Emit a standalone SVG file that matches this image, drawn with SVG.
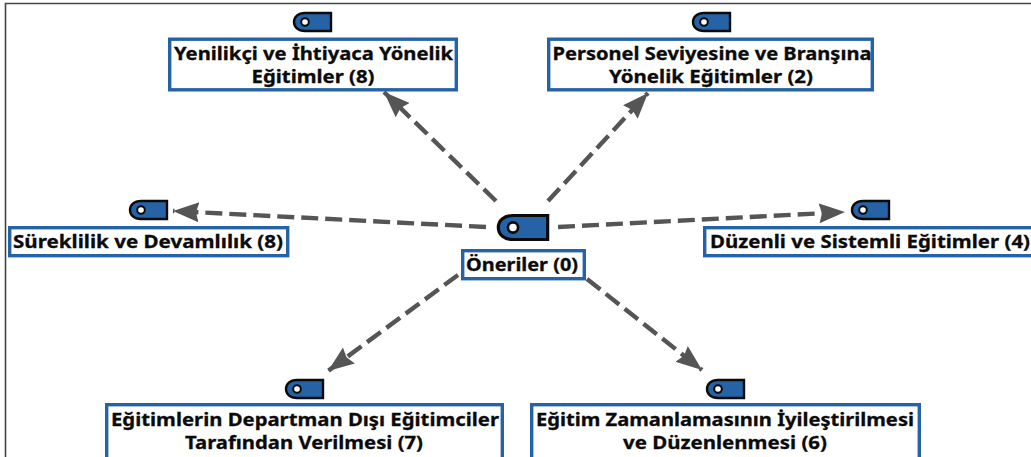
<svg xmlns="http://www.w3.org/2000/svg" width="1031" height="457" viewBox="0 0 1031 457">
<style>
.box{fill:#fff;stroke:#2563a6;stroke-width:3.4}
.t{font-family:"Noto Sans","Open Sans","DejaVu Sans",sans-serif;font-weight:700;font-size:18px;fill:#0b0b0b;stroke:#0b0b0b;stroke-width:.3;text-anchor:middle}
.tag{fill:#2563a6;stroke:#0a0a0a;stroke-width:2.4;stroke-linejoin:miter}
.hole{fill:#fff;stroke:#0a0a0a;stroke-width:2}
.c{stroke:#555;stroke-width:4.400;stroke-dasharray:17 7;fill:none;marker-end:url(#a)}
</style>
<defs>
<marker id="a" markerUnits="userSpaceOnUse" markerWidth="28" markerHeight="22" refX="26" refY="10" orient="auto"><path d="M0 0L26 10L0 20L3 10Z" fill="#555"/></marker>
<symbol id="s" viewBox="0 0 39 20" overflow="visible"><path class="tag" d="M12 1H38V19H12C5 19 1 15 1 10S5 1 12 1Z"/><circle class="hole" cx="12" cy="10" r="3.8"/></symbol>
</defs>
<path d="M5.500 457V3.500H1031" fill="none" stroke="#444" stroke-width="1.600"/>
<g id="connectors">
<path class="c" d="M496 201L384 92"/>
<path class="c" d="M548 201L648 93"/>
<path class="c" d="M486 227L173 211"/>
<path class="c" d="M558 227L845 212"/>
<path class="c" d="M458 275L328 371"/>
<path class="c" d="M587 279L702 370"/>
</g>
<g id="n0"><use href="#s" x="497" y="214" width="52" height="27"/><rect class="box" x="462.700" y="250.700" width="121.600" height="28"/><text class="t" x="522" y="271" textLength="112" lengthAdjust="spacingAndGlyphs">Öneriler (0)</text></g>
<g id="n1"><use href="#s" x="293" y="12" width="39" height="20"/><rect class="box" x="169.700" y="39.200" width="286.600" height="50.600"/><text class="t" x="313.500" y="60" textLength="279" lengthAdjust="spacingAndGlyphs">Yenilikçi ve İhtiyaca Yönelik</text><text class="t" x="313" y="83" textLength="123" lengthAdjust="spacingAndGlyphs">Eğitimler (8)</text></g>
<g id="n2"><use href="#s" x="692" y="12" width="39" height="20"/><rect class="box" x="548.700" y="39.200" width="323.600" height="50.600"/><text class="t" x="712" y="60" textLength="319" lengthAdjust="spacingAndGlyphs">Personel Seviyesine ve Branşına</text><text class="t" x="711" y="83" textLength="204" lengthAdjust="spacingAndGlyphs">Yönelik Eğitimler (2)</text></g>
<g id="n3"><use href="#s" x="129" y="200" width="39" height="20"/><rect class="box" x="9.700" y="227.700" width="278" height="28"/><text class="t" x="148" y="247.500" textLength="270" lengthAdjust="spacingAndGlyphs">Süreklilik ve Devamlılık (8)</text></g>
<g id="n4"><use href="#s" x="851" y="200" width="39" height="20"/><rect class="box" x="704.700" y="227.700" width="340" height="28"/><text class="t" x="870" y="247.500" textLength="320" lengthAdjust="spacingAndGlyphs">Düzenli ve Sistemli Eğitimler (4)</text></g>
<g id="n5"><use href="#s" x="285" y="379" width="39" height="20"/><rect class="box" x="106.700" y="404.700" width="395.600" height="60"/><text class="t" x="305" y="426" textLength="388" lengthAdjust="spacingAndGlyphs">Eğitimlerin Departman Dışı Eğitimciler</text><text class="t" x="304" y="448.500" textLength="238" lengthAdjust="spacingAndGlyphs">Tarafından Verilmesi (7)</text></g>
<g id="n6"><use href="#s" x="706" y="379" width="39" height="20"/><rect class="box" x="531.700" y="404.700" width="387.600" height="60"/><text class="t" x="725" y="426" textLength="378" lengthAdjust="spacingAndGlyphs">Eğitim Zamanlamasının İyileştirilmesi</text><text class="t" x="725" y="449" textLength="204" lengthAdjust="spacingAndGlyphs">ve Düzenlenmesi (6)</text></g>
</svg>
